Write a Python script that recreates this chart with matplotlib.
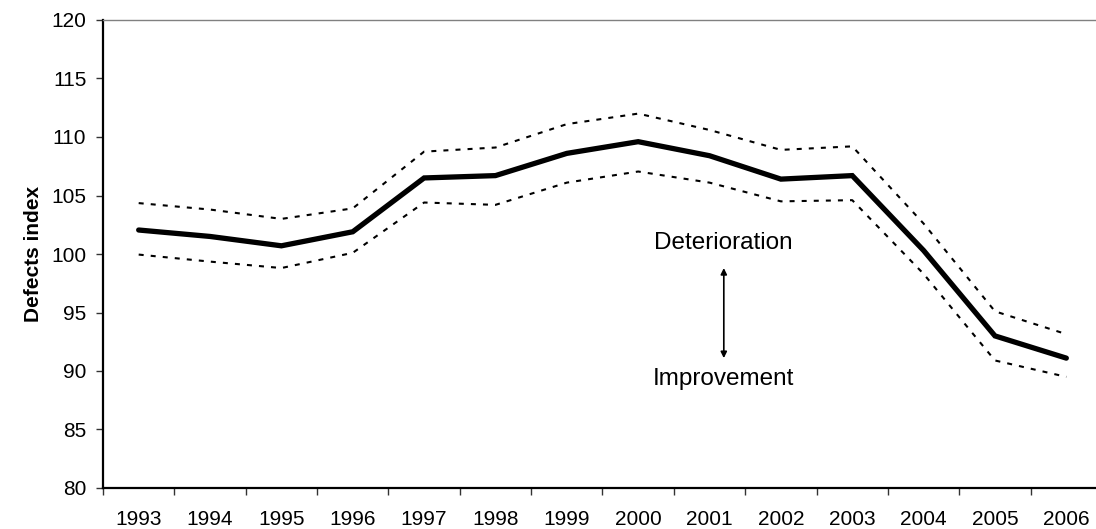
import numpy as np
import matplotlib
matplotlib.use("Agg")
import matplotlib.pyplot as plt

plt.rcParams["font.family"] = ["Liberation Sans", "DejaVu Sans"]

# values
years = ["1993", "1994", "1995", "1996", "1997", "1998", "1999",
         "2000", "2001", "2002", "2003", "2004", "2005", "2006"]
defects = [102.05, 101.5, 100.7, 101.9, 106.5, 106.7, 108.6,
           109.6, 108.4, 106.4, 106.7, 100.3, 93.0, 91.1]
upper = [104.35, 103.8, 103.0, 103.9, 108.75, 109.1, 111.1,
         112.0, 110.6, 108.9, 109.2, 102.6, 95.1, 93.15]
lower = [99.95, 99.35, 98.8, 100.1, 104.4, 104.2, 106.1,
         107.05, 106.1, 104.5, 104.6, 98.3, 90.9, 89.5]


def main():
    fig = plt.figure(figsize=(10.96, 5.29), dpi=100)
    ax = fig.add_axes([103 / 1096, 1 - 488 / 529, 999 / 1096, 468 / 529])

    x = np.arange(len(years))
    dots = (0, (2.4, 3.4))
    ax.plot(x, upper, color="black", lw=1.5, linestyle=dots)
    ax.plot(x, lower, color="black", lw=1.5, linestyle=dots)
    ax.plot(x, defects, color="black", lw=3.8, solid_joinstyle="miter",
            solid_capstyle="round")

    ax.set_xlim(-0.5, len(years) - 0.5)
    ax.set_ylim(80, 120)
    ax.set_yticks(np.arange(80, 121, 5))

    # category axis: ticks between categories, labels centred
    ax.set_xticks(np.arange(-0.5, len(years), 1))
    ax.set_xticklabels([])
    ax.set_xticks(x, minor=True)
    ax.set_xticklabels(years, minor=True)
    ax.tick_params(axis="x", which="major", direction="out", length=5,
                   width=1, color="#333333")
    ax.tick_params(axis="x", which="minor", length=0, pad=16, labelsize=15)
    ax.tick_params(axis="y", direction="out", length=5, width=1,
                   color="#333333", pad=7, labelsize=15)

    for side in ("left", "bottom"):
        ax.spines[side].set_linewidth(1.6)
        ax.spines[side].set_color("black")
    ax.spines["top"].set_color("#808080")
    ax.spines["top"].set_linewidth(1)
    ax.spines["right"].set_visible(False)

    ax.set_ylabel("Defects index", fontsize=15, fontweight="bold",
                  labelpad=6)

    ax.text(8.2, 100.9, "Deterioration", fontsize=17.5, ha="center",
            va="center")
    ax.text(8.2, 89.3, "Improvement", fontsize=17.5, ha="center",
            va="center")
    ax.annotate("", xy=(8.2, 98.8), xytext=(8.2, 91.1),
                arrowprops=dict(arrowstyle="<|-|>", color="black", lw=1.2,
                                mutation_scale=9, shrinkA=0, shrinkB=0))

    fig.savefig("out.png", dpi=100)


if __name__ == "__main__":
    main()
